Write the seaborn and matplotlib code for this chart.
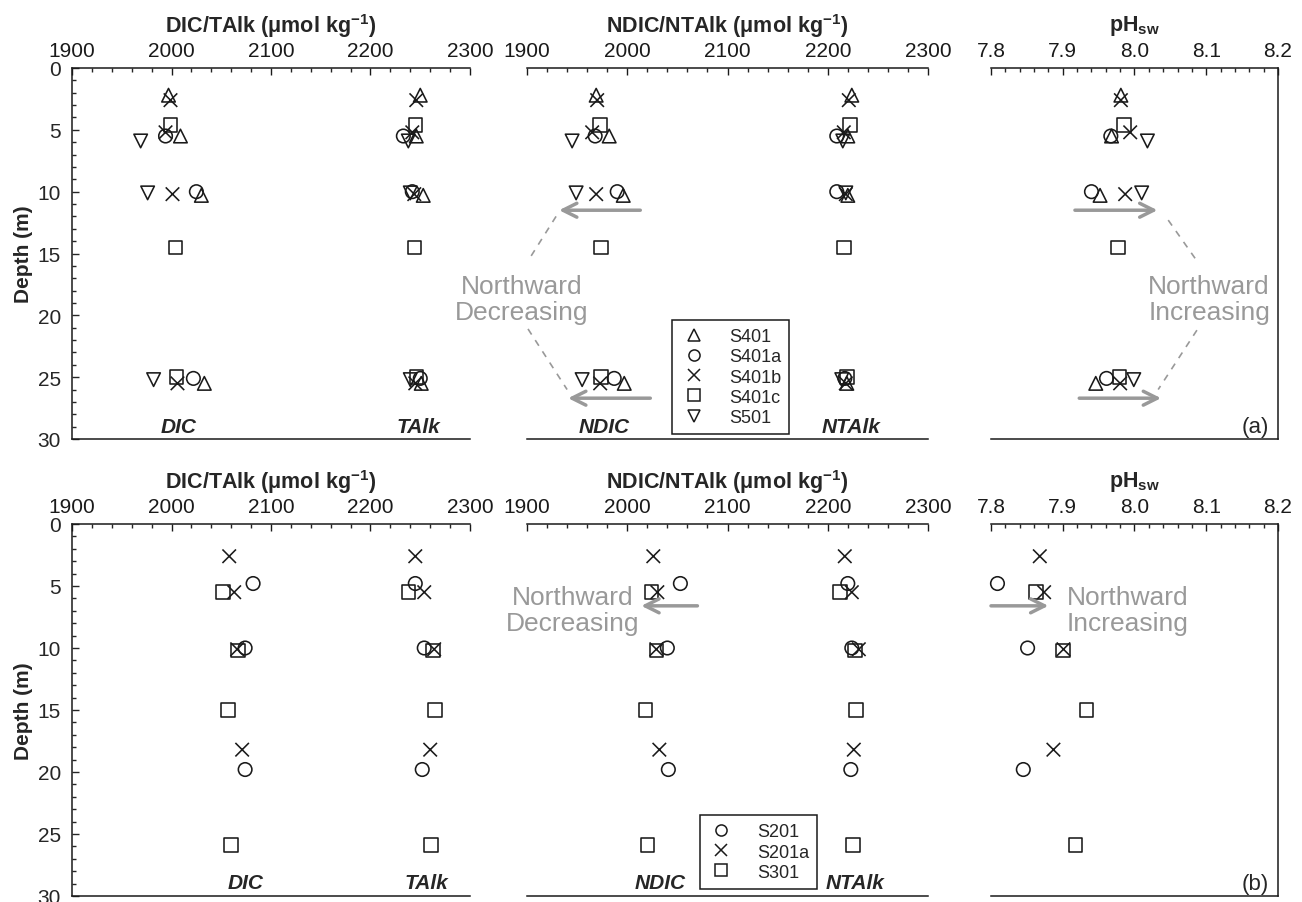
import numpy as np
import pandas as pd
import matplotlib
matplotlib.use("Agg")
import matplotlib.pyplot as plt
import seaborn as sns
from matplotlib.ticker import MultipleLocator, FixedLocator
from matplotlib.lines import Line2D

sns.set_theme(style="ticks")
plt.rcParams['font.family'] = ['Liberation Sans', 'DejaVu Sans']
plt.rcParams['mathtext.fontset'] = 'custom'
plt.rcParams['mathtext.rm'] = 'Liberation Sans'
plt.rcParams['mathtext.bf'] = 'Liberation Sans:bold'
plt.rcParams['mathtext.default'] = 'bf'

# ---------------- data: panel (a) ----------------
a_stations = ["S401", "S401a", "S401b", "S401c", "S501"]
a_markers = ["^", "o", "x", "s", "v"]
a_depth = {
    "S401":  [2.2, 5.5, 10.3, 25.5],
    "S401a": [5.5, 10.0, 25.1],
    "S401b": [2.6, 5.2, 10.2, 25.5],
    "S401c": [4.6, 14.5, 25.0],
    "S501":  [5.9, 10.1, 25.2],
}
a_dic = {
    "S401":  [1997, 2009, 2030, 2033],
    "S401a": [1994, 2025, 2022],
    "S401b": [1999, 1994, 2001, 2006],
    "S401c": [1999, 2004, 2005],
    "S501":  [1969, 1976, 1982],
}
a_talk = {
    "S401":  [2250, 2246, 2253, 2251],
    "S401a": [2233, 2242, 2250],
    "S401b": [2246, 2242, 2244, 2245],
    "S401c": [2245, 2244, 2246],
    "S501":  [2238, 2240, 2240],
}
a_ndic = {
    "S401":  [1969, 1982, 1996, 1997],
    "S401a": [1968, 1990, 1987],
    "S401b": [1970, 1965, 1969, 1973],
    "S401c": [1973, 1974, 1974],
    "S501":  [1945, 1949, 1955],
}
a_ntalk = {
    "S401":  [2224, 2220, 2220, 2219],
    "S401a": [2209, 2209, 2217],
    "S401b": [2221, 2216, 2218, 2218],
    "S401c": [2222, 2216, 2219],
    "S501":  [2215, 2218, 2214],
}
a_ph = {
    "S401":  [7.981, 7.968, 7.952, 7.946],
    "S401a": [7.967, 7.940, 7.961],
    "S401b": [7.981, 7.994, 7.987, 7.980],
    "S401c": [7.985, 7.977, 7.979],
    "S501":  [8.018, 8.010, 7.999],
}

# ---------------- data: panel (b) ----------------
b_stations = ["S201", "S201a", "S301"]
b_markers = ["o", "x", "s"]
b_depth = {
    "S201":  [4.8, 10.0, 19.8],
    "S201a": [2.6, 5.5, 10.1, 18.2],
    "S301":  [5.5, 10.2, 15.0, 25.9],
}
b_dic = {
    "S201":  [2082, 2074, 2074],
    "S201a": [2058, 2063, 2066, 2071],
    "S301":  [2052, 2067, 2057, 2060],
}
b_talk = {
    "S201":  [2245, 2254, 2252],
    "S201a": [2245, 2254, 2264, 2260],
    "S301":  [2238, 2263, 2265, 2261],
}
b_ndic = {
    "S201":  [2053, 2040, 2041],
    "S201a": [2026, 2030, 2029, 2032],
    "S301":  [2024, 2029, 2018, 2020],
}
b_ntalk = {
    "S201":  [2220, 2224, 2223],
    "S201a": [2217, 2224, 2231, 2226],
    "S301":  [2212, 2227, 2228, 2225],
}
b_ph = {
    "S201":  [7.809, 7.851, 7.845],
    "S201a": [7.868, 7.874, 7.901, 7.887],
    "S301":  [7.863, 7.900, 7.933, 7.918],
}

conc_ticks = [1900, 2000, 2100, 2200, 2300]
ph_ticks = [7.8, 7.9, 8.0, 8.1, 8.2]
ph_ticklabels = ["7.8", "7.9", "8.0", "8.1", "8.2"]
depth_ticks = [0, 5, 10, 15, 20, 25, 30]

title_conc = "DIC/TAlk (μmol kg$^{-1}$)"
title_nconc = "NDIC/NTAlk (μmol kg$^{-1}$)"
title_ph = "pH$_{sw}$"

GRAY = "#999999"
W, H = 1302, 903
fig = plt.figure(figsize=(W / 100, H / 100), dpi=100)

def frac(l, r, t, b):
    return [l / W, 1 - b / H, (r - l) / W, (b - t) / H]

rows = [
    dict(t=69, b=440, stations=a_stations, markers=a_markers, depth=a_depth,
         v1=a_dic, v2=a_talk, n1=a_ndic, n2=a_ntalk, ph=a_ph, tag="(a)"),
    dict(t=525, b=897, stations=b_stations, markers=b_markers, depth=b_depth,
         v1=b_dic, v2=b_talk, n1=b_ndic, n2=b_ntalk, ph=b_ph, tag="(b)"),
]

S = 95
LW = 1.15

def scatter(ax, xs, ys, m):
    sns.scatterplot(x=xs, y=ys, marker=m, s=S, color="k", linewidth=LW,
                    ax=ax, legend=False, zorder=3, clip_on=False)
    coll = ax.collections[-1]
    coll.set_facecolor("none")
    coll.set_edgecolor("k")
    coll.set_linewidth(LW)

def style_axis(ax, xlim, major, minor, ticks, labels=None):
    ax.set_xlim(*xlim)
    ax.set_ylim(30, 0)
    ax.xaxis.tick_top()
    ax.xaxis.set_major_locator(FixedLocator(ticks))
    if labels is not None:
        ax.set_xticklabels(labels)
    ax.xaxis.set_minor_locator(MultipleLocator(minor))
    ax.tick_params(axis="x", which="major", direction="in", length=5, width=1,
                   pad=6, labelsize=15, top=True, bottom=False, colors="k")
    ax.tick_params(axis="x", which="minor", direction="in", length=3, width=1,
                   top=True, bottom=False)
    ax.set_xlabel("")
    ax.set_ylabel("")
    for sp in ax.spines.values():
        sp.set_color("k")
        sp.set_linewidth(1.1)
    ax.set_facecolor("white")

axes_rows = []
for row in rows:
    t, b = row["t"], row["b"]
    ax1 = fig.add_axes(frac(72, 470, t, b))
    ax2 = fig.add_axes(frac(527, 928, t, b))
    ax3 = fig.add_axes(frac(991, 1278, t, b))
    for st, m in zip(row["stations"], row["markers"]):
        d = row["depth"][st]
        scatter(ax1, row["v1"][st], d, m)
        scatter(ax1, row["v2"][st], d, m)
        scatter(ax2, row["n1"][st], d, m)
        scatter(ax2, row["n2"][st], d, m)
        scatter(ax3, row["ph"][st], d, m)

    style_axis(ax1, (1900, 2300), 100, 20, conc_ticks)
    style_axis(ax2, (1900, 2300), 100, 20, conc_ticks)
    style_axis(ax3, (7.8, 8.2), 0.1, 0.02, ph_ticks, ph_ticklabels)

    # y axis only on the left panel
    ax1.yaxis.set_major_locator(FixedLocator(depth_ticks))
    ax1.yaxis.set_minor_locator(MultipleLocator(1))
    ax1.tick_params(axis="y", which="major", direction="in", length=5, width=1,
                    pad=8, labelsize=15, left=True, right=False)
    ax1.tick_params(axis="y", which="minor", direction="in", length=3, width=1,
                    left=True, right=False)
    ax1.set_ylabel("Depth (m)", fontsize=15, fontweight="bold")
    ax1.yaxis.set_label_coords(-0.097, 0.5)
    ax1.spines["right"].set_visible(False)
    for ax in (ax2, ax3):
        ax.tick_params(axis="y", which="both", left=False, right=False,
                       labelleft=False)
        ax.spines["left"].set_visible(False)
    ax2.spines["right"].set_visible(False)

    for ax, ttl in ((ax1, title_conc), (ax2, title_nconc), (ax3, title_ph)):
        ax.text(0.5, 1.115, ttl, transform=ax.transAxes, ha="center",
                va="center", fontsize=15.5, fontweight="bold")

    ax3.text(8.187, 29.0, row["tag"], ha="right", va="center", fontsize=16)
    axes_rows.append((ax1, ax2, ax3))

# ---------------- row (a) annotations ----------------
ax1, ax2, ax3 = axes_rows[0]
lbl = dict(ha="center", va="center", fontsize=15, fontweight="bold", style="italic")
ax1.text(2007, 29.0, "DIC", **lbl)
ax1.text(2248, 29.0, "TAlk", **lbl)
ax2.text(1977, 29.0, "NDIC", **lbl)
ax2.text(2223, 29.0, "NTAlk", **lbl)

arr = dict(arrowstyle="->", color=GRAY, lw=2.5, mutation_scale=25,
           shrinkA=0, shrinkB=0)
ax2.annotate("", xy=(1932, 11.5), xytext=(2013, 11.5), arrowprops=arr,
             annotation_clip=False)
ax2.annotate("", xy=(1941, 26.7), xytext=(2023, 26.7), arrowprops=arr,
             annotation_clip=False)
ax2.plot([1929, 1901], [12.0, 15.6], ls=(0, (4, 4)), color=GRAY, lw=1.2,
         clip_on=False)
ax2.plot([1901, 1940], [21.1, 26.0], ls=(0, (4, 4)), color=GRAY, lw=1.2,
         clip_on=False)
ax2.text(1895, 18.7, "Northward\nDecreasing", ha="center", va="center",
         fontsize=19, color=GRAY, linespacing=1.1)

ax3.annotate("", xy=(8.032, 11.5), xytext=(7.917, 11.5), arrowprops=arr,
             annotation_clip=False)
ax3.annotate("", xy=(8.037, 26.7), xytext=(7.923, 26.7), arrowprops=arr,
             annotation_clip=False)
ax3.plot([8.047, 8.087], [12.3, 15.6], ls=(0, (4, 4)), color=GRAY, lw=1.2,
         clip_on=False)
ax3.plot([8.087, 8.033], [21.2, 26.0], ls=(0, (4, 4)), color=GRAY, lw=1.2,
         clip_on=False)
ax3.text(8.104, 18.7, "Northward\nIncreasing", ha="center", va="center",
         fontsize=19, color=GRAY, linespacing=1.1)

handles = [Line2D([], [], ls="none", marker=m, color="k", mfc="none", ms=8,
                  mew=1.1) for m in a_markers]
leg = ax2.legend(handles, a_stations, loc="lower left",
                 bbox_to_anchor=(0.362, 0.013), fontsize=13, frameon=True,
                 fancybox=False, framealpha=1, edgecolor="k",
                 handlelength=1.5, handletextpad=1.2, labelspacing=0.18,
                 borderpad=0.45, borderaxespad=0)
leg.get_frame().set_linewidth(1.1)

# ---------------- row (b) annotations ----------------
ax1, ax2, ax3 = axes_rows[1]
ax1.text(2074, 28.9, "DIC", **lbl)
ax1.text(2256, 28.9, "TAlk", **lbl)
ax2.text(2033, 28.9, "NDIC", **lbl)
ax2.text(2227, 28.9, "NTAlk", **lbl)
ax2.annotate("", xy=(2014, 6.6), xytext=(2070, 6.6), arrowprops=arr,
             annotation_clip=False)
ax2.text(1946, 6.9, "Northward\nDecreasing", ha="center", va="center",
         fontsize=19, color=GRAY, linespacing=1.1)
ax3.annotate("", xy=(7.880, 6.6), xytext=(7.800, 6.6), arrowprops=arr,
             annotation_clip=False)
ax3.text(7.991, 6.9, "Northward\nIncreasing", ha="center", va="center",
         fontsize=19, color=GRAY, linespacing=1.1)

handles_b = [Line2D([], [], ls="none", marker=m, color="k", mfc="none", ms=8,
                    mew=1.1) for m in b_markers]
leg = ax2.legend(handles_b, b_stations, loc="lower left",
                 bbox_to_anchor=(0.431, 0.019), fontsize=13, frameon=True,
                 fancybox=False, framealpha=1, edgecolor="k",
                 handlelength=1.5, handletextpad=1.2, labelspacing=0.18,
                 borderpad=0.45, borderaxespad=0)
leg.get_frame().set_linewidth(1.1)

fig.savefig("out.png", dpi=100, facecolor="white")
